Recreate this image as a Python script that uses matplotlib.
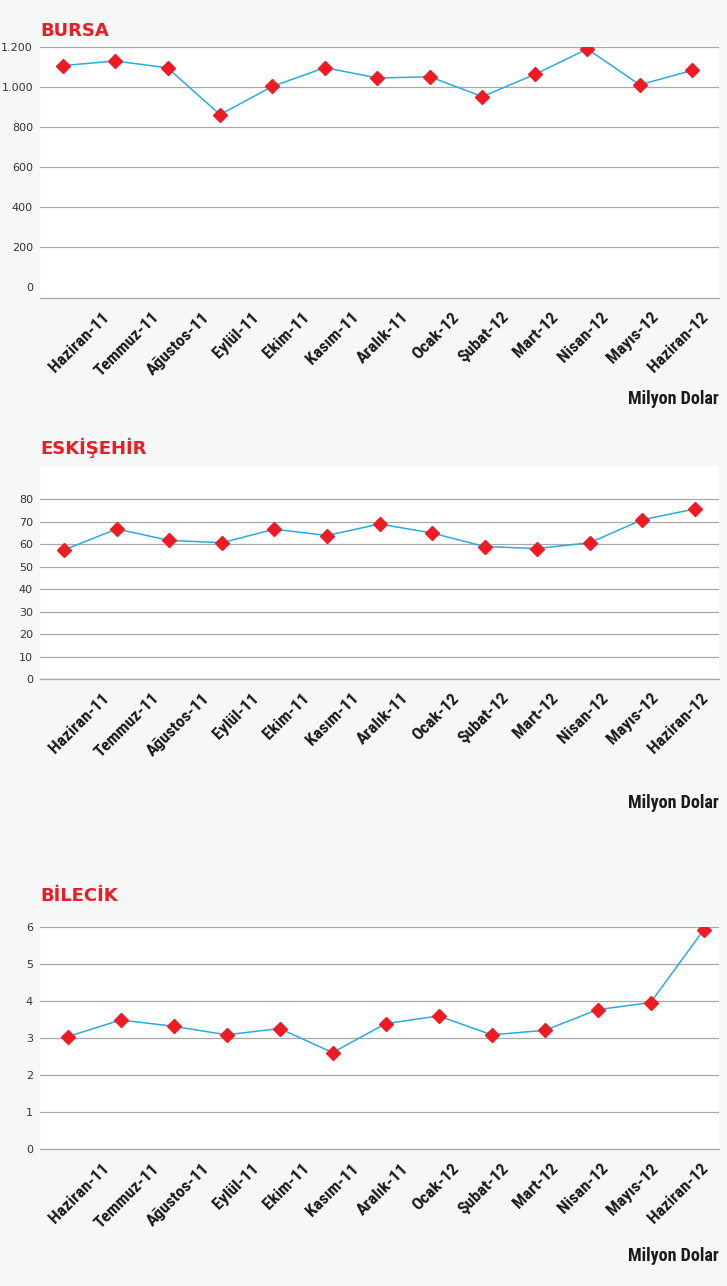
import matplotlib.pyplot as plt
import numpy as np
from matplotlib import font_manager

months = ['Haziran-11', 'Temmuz-11', 'Ağustos-11', 'Eylül-11', 'Ekim-11', 'Kasım-11', 'Aralık-11',
          'Ocak-12', 'Şubat-12', 'Mart-12', 'Nisan-12', 'Mayıs-12', 'Haziran-12']

bursa = [1107, 1130, 1096, 862, 1003, 1097, 1045, 1051, 952, 1063, 1190, 1011, 1083]
eskisehir = [57.4, 66.7, 61.6, 60.6, 66.6, 63.8, 68.9, 64.9, 58.9, 58.0, 60.6, 70.8, 75.6]
bilecik = [3.04, 3.49, 3.32, 3.09, 3.26, 2.61, 3.39, 3.60, 3.09, 3.21, 3.77, 3.96, 5.92]

bursa_ticks = [0, 200, 400, 600, 800, 1000, 1200]
bursa_ticklabels = ['0', '200', '400', '600', '800', '1.000', '1.200']
eskisehir_ticks = [0, 10, 20, 30, 40, 50, 60, 70, 80]
bilecik_ticks = [0, 1, 2, 3, 4, 5, 6]

unit = 'Milyon Dolar'

RED = '#ed1c24'
BLUE = '#29abe2'
GRID = '#a8a8a8'
BG = '#f6f7f7'
W, H = 727, 1286

# look for a condensed bold face, the reference uses a narrow grotesque
names = {f.name for f in font_manager.fontManager.ttflist}
narrow_fam = None
for cand in ['Liberation Sans Narrow', 'DejaVu Sans Condensed', 'Roboto Condensed', 'Open Sans Condensed']:
    if cand in names:
        narrow_fam = cand
        break
if narrow_fam is not None:
    narrow = dict(family=[narrow_fam, 'DejaVu Sans'])
else:
    narrow = dict(family=['DejaVu Sans'], fontstretch='condensed')

# layout of each panel in pixels: (title, data, ticks, labels, top, bottom, xlim, ylim, title baseline, unit y)
panels = [
    ('BURSA', bursa, bursa_ticks, bursa_ticklabels, 47, 298, (-0.43, 12.51), (-55, 1200), 36.5, 399),
    ('ESKİŞEHİR', eskisehir, eskisehir_ticks, [str(t) for t in eskisehir_ticks], 466, 679,
     (-0.46, 12.46), (0, 94.7), 454.5, 803),
    ('BİLECİK', bilecik, bilecik_ticks, [str(t) for t in bilecik_ticks], 927, 1149.3,
     (-0.52, 12.29), (0, 6), 901, 1256),
]

fig = plt.figure(figsize=(W / 100, H / 100), dpi=100)
fig.patch.set_facecolor(BG)

left, right = 40, 719
for title, vals, ticks, tlabels, top, bottom, xl, yl, tb, uy in panels:
    ax = fig.add_axes([left / W, 1 - bottom / H, (right - left) / W, (bottom - top) / H])
    ax.set_facecolor('white')
    x = np.arange(len(vals))
    ax.plot(x, vals, color=BLUE, lw=1.1, zorder=3)
    ax.plot(x, vals, ls='none', marker='D', ms=7.2, color=RED, zorder=4)
    ax.set_xlim(*xl)
    ax.set_ylim(*yl)

    ax.set_yticks(ticks)
    ax.set_yticklabels(tlabels, fontsize=8, color='#333333')
    ax.yaxis.grid(True, color=GRID, lw=0.9)
    ax.set_axisbelow(True)
    if yl[0] < 0:
        ax.get_ygridlines()[0].set_visible(False)
    for s in ['top', 'left', 'right']:
        ax.spines[s].set_visible(False)
    ax.spines['bottom'].set_color(GRID)
    ax.spines['bottom'].set_linewidth(0.9)
    ax.tick_params(axis='both', length=0)
    ax.tick_params(axis='y', pad=5)

    # month labels sit on their own spacing, slightly right of the points
    lab_px = 107 + np.arange(len(months)) * 49.9
    lab_pos = xl[0] + (lab_px - left) / (right - left) * (xl[1] - xl[0])
    ax.set_xticks(lab_pos)
    labs = ax.set_xticklabels(months, rotation=45, ha='right', va='center', rotation_mode='anchor',
                              color='#1a1a1a')
    for t in labs:
        t.set(**narrow)
        t.set_fontsize(12.5)
        t.set_fontweight('bold')
    ax.tick_params(axis='x', pad=12)

    fig.text(left / W, 1 - tb / H, title, color=RED, fontsize=13, fontweight='bold',
             ha='left', va='baseline')
    ut = fig.text(right / W, 1 - uy / H, unit, color='#1a1a1a', ha='right', va='center')
    ut.set(**narrow)
    ut.set_fontsize(13)
    ut.set_fontweight('bold')

fig.savefig('out.png', dpi=100, facecolor=BG)
